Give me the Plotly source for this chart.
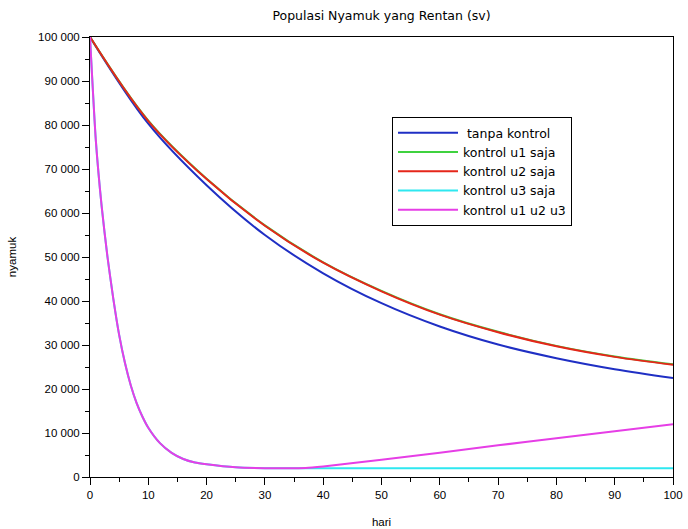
import plotly.graph_objects as go

# ---- data ----
t_main = [0, 10, 20, 30, 40, 50, 60, 70, 80, 90, 100]
s_tanpa = [100000, 80300, 66300, 55000, 46300, 39500, 34200, 30100, 27000, 24500, 22500]
s_u1 = [100000, 81000, 67800, 57200, 48800, 42300, 37000, 33000, 29800, 27400, 25600]
s_u2 = [100000, 80900, 67700, 57100, 48700, 42200, 36900, 32900, 29700, 27300, 25500]

t_fast = [0, 1, 2, 3, 4, 5, 6, 7, 8, 9, 10, 12, 14, 16, 18, 20, 25, 30, 35, 37,
          40, 50, 60, 70, 80, 90, 100]
s_u3 = [100000, 76500, 61500, 50000, 40500, 32300, 25900, 20800, 16800, 13700,
        11200, 7700, 5500, 4100, 3300, 2900, 2200, 2000, 2000, 2000,
        2000, 2000, 2000, 2000, 2000, 2000, 2000]
s_all = [100000, 76500, 61500, 50000, 40500, 32300, 25900, 20800, 16800, 13700,
         11200, 7700, 5500, 4100, 3300, 2900, 2200, 2000, 2000, 2050,
         2400, 3900, 5500, 7200, 8800, 10400, 12000]

y_tickvals = [0, 10000, 20000, 30000, 40000, 50000, 60000, 70000, 80000, 90000, 100000]
y_ticktext = ["0", "10 000", "20 000", "30 000", "40 000", "50 000", "60 000",
              "70 000", "80 000", "90 000", "100 000"]
x_tickvals = [0, 10, 20, 30, 40, 50, 60, 70, 80, 90, 100]

FONT = "Liberation Sans, Arial, sans-serif"
WIDE = "DejaVu Sans, sans-serif"

fig = go.Figure()
fig.add_trace(go.Scatter(x=t_main, y=s_tanpa, mode="lines", name=" tanpa kontrol",
                         line=dict(color="#1f2fc4", width=2, shape="spline")))
fig.add_trace(go.Scatter(x=t_main, y=s_u1, mode="lines", name="kontrol u1 saja",
                         line=dict(color="#3fd23f", width=2, shape="spline")))
fig.add_trace(go.Scatter(x=t_main, y=s_u2, mode="lines", name="kontrol u2 saja",
                         line=dict(color="#e5261a", width=2, shape="spline")))
fig.add_trace(go.Scatter(x=t_fast, y=s_u3, mode="lines", name="kontrol u3 saja",
                         line=dict(color="#2ee8f0", width=2, shape="spline", smoothing=0.6)))
fig.add_trace(go.Scatter(x=t_fast, y=s_all, mode="lines", name="kontrol u1 u2 u3",
                         line=dict(color="#e63ee6", width=2, shape="spline", smoothing=0.6)))

fig.update_layout(
    width=688, height=529,
    margin=dict(l=90, r=15, t=37, b=52),
    paper_bgcolor="white", plot_bgcolor="white",
    font=dict(family=FONT, size=11, color="black"),
    title=dict(text="Populasi Nyamuk yang Rentan (sv)", x=(90 + 673) / 2 / 688,
               xanchor="center", y=1 - 16 / 529, yanchor="middle",
               font=dict(family=WIDE, size=12.5, color="black")),
    showlegend=True,
    legend=dict(x=(392 - 90) / 583, y=(477 - 117) / 440, xanchor="left", yanchor="top",
                bordercolor="black", borderwidth=1, bgcolor="white",
                font=dict(family=WIDE, size=12.5), itemwidth=60, tracegroupgap=0),
)
fig.update_xaxes(
    range=[0, 100], tickvals=x_tickvals, ticks="outside", ticklen=7, tickcolor="black",
    showline=True, linecolor="black", linewidth=1, mirror=True, showgrid=False,
    zeroline=False, tickfont=dict(size=11.5), automargin=False,
    minor=dict(ticks="outside", ticklen=4, dtick=5, tickcolor="black", showgrid=False),
    title=dict(text="hari", standoff=18, font=dict(size=11.5)),
)
fig.update_yaxes(
    range=[0, 100000], tickvals=y_tickvals, ticktext=y_ticktext, ticks="outside",
    ticklen=7, tickcolor="black", showline=True, linecolor="black", linewidth=1,
    mirror=True, showgrid=False, zeroline=False, tickfont=dict(size=11.5), automargin=False,
    minor=dict(ticks="outside", ticklen=4, dtick=5000, tickcolor="black", showgrid=False),
    title=dict(text="nyamuk", standoff=19, font=dict(size=11.5)),
)

fig.write_html("out.html", config={"displayModeBar": False},
               post_script="document.body.style.margin='0';document.body.style.padding='0';")
